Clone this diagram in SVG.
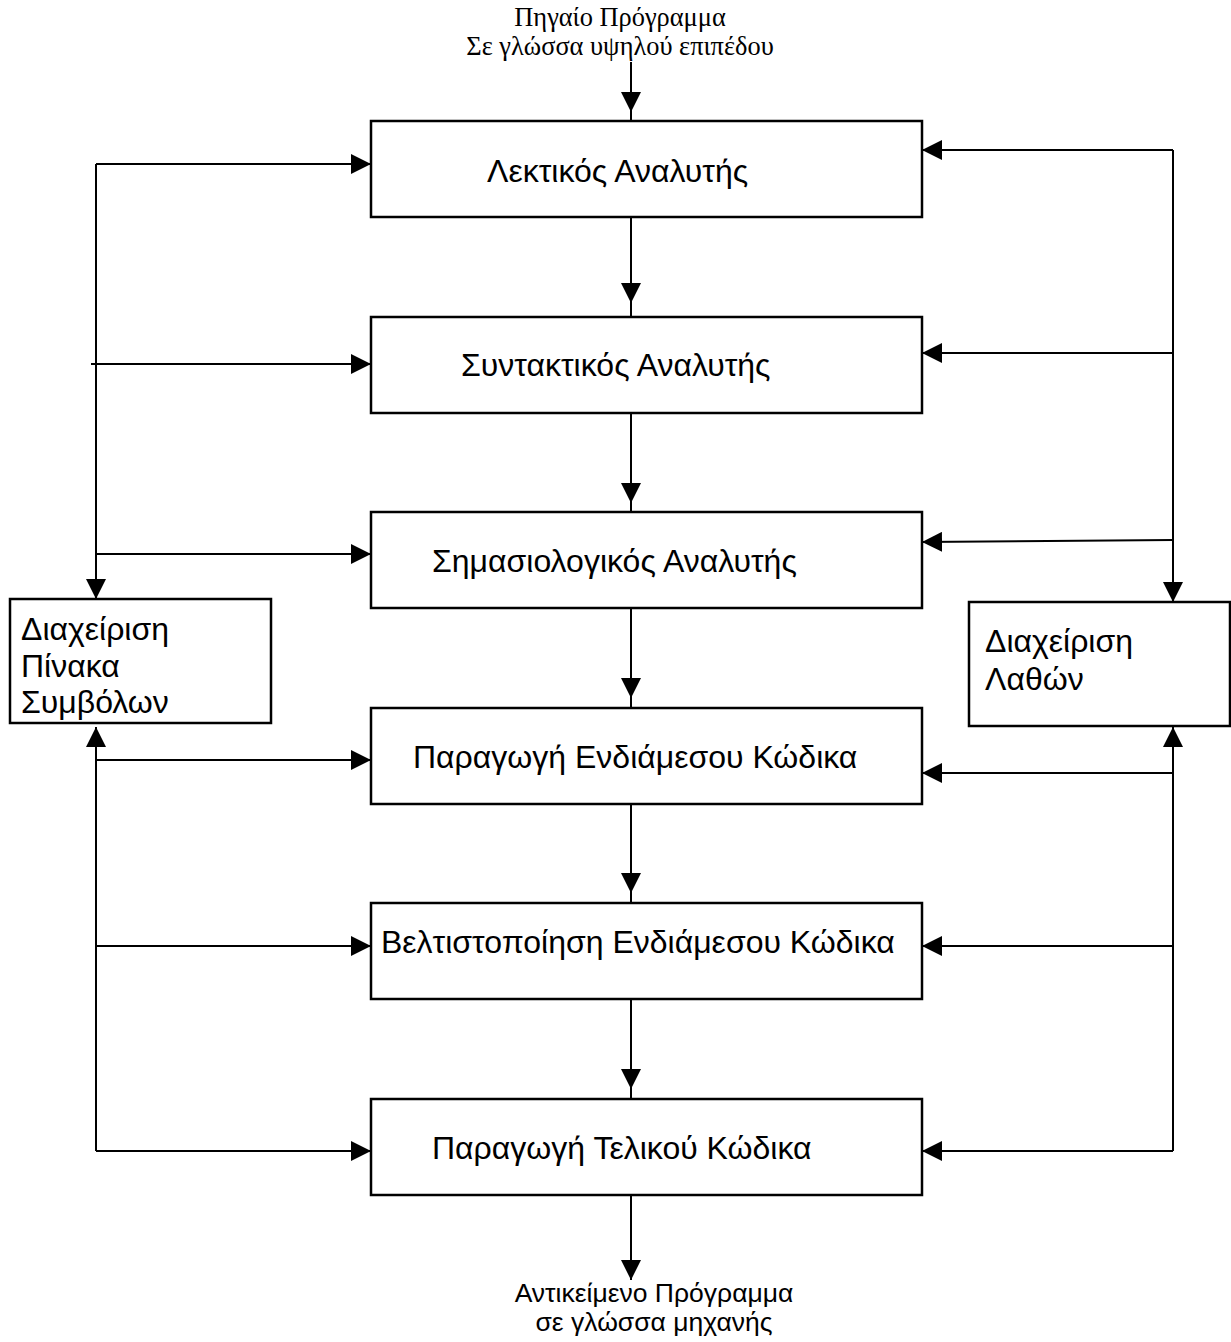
<svg xmlns="http://www.w3.org/2000/svg" width="1231" height="1342" viewBox="0 0 1231 1342">
<style>
.box{fill:#fff;stroke:#000;stroke-width:2.5}
.t{font-family:"Liberation Sans",Arial,sans-serif;font-size:32px;fill:#000}
.s{font-family:"Liberation Serif","Times New Roman",serif;font-size:26.4px;fill:#000}
.b{font-family:"Liberation Sans",Arial,sans-serif;font-size:26.5px;fill:#000}
.c{fill:none;stroke:#000;stroke-width:2;marker-end:url(#a)}
.m{fill:none;stroke:#000;stroke-width:2;marker-mid:url(#a)}
</style>
<defs>
<marker id="a" viewBox="0 0 20 20" refX="20" refY="10" markerWidth="20" markerHeight="20" markerUnits="userSpaceOnUse" orient="auto"><path d="M0,0L20,10L0,20z" fill="#000"/></marker>
</defs>
<g id="connectors">
<path class="m" d="M631,62V112V121"/>
<path class="m" d="M631,217V303V317"/>
<path class="m" d="M631,413V503V512"/>
<path class="m" d="M631,608V698V708"/>
<path class="m" d="M631,804V893V903"/>
<path class="m" d="M631,999V1089V1099"/>
<path class="c" d="M631,1195V1280"/>
<path class="c" d="M96,164H371"/>
<path class="c" d="M96,164V599"/>
<path class="c" d="M91,364H371"/>
<path class="c" d="M96,554H371"/>
<path class="c" d="M96,1151V727"/>
<path class="c" d="M96,760H371"/>
<path class="c" d="M97,946H371"/>
<path class="c" d="M96,1151H371"/>
<path class="c" d="M1173,150V602"/>
<path class="c" d="M1173,150H922"/>
<path class="c" d="M1173,353H922"/>
<path class="c" d="M1173,540L922,542"/>
<path class="c" d="M1173,1151V727"/>
<path class="c" d="M1173,773H922"/>
<path class="c" d="M1173,946H922"/>
<path class="c" d="M1173,1151H922"/>
</g>
<g id="source">
<text class="s" x="620" y="26" text-anchor="middle">Πηγαίο Πρόγραμμα</text>
<text class="s" x="620" y="55" text-anchor="middle">Σε γλώσσα υψηλού επιπέδου</text>
</g>
<g id="lexical">
<rect class="box" x="371" y="121" width="551" height="96"/>
<text class="t" x="487" y="182">Λεκτικός Αναλυτής</text>
</g>
<g id="syntax">
<rect class="box" x="371" y="317" width="551" height="96"/>
<text class="t" x="461" y="376">Συντακτικός Αναλυτής</text>
</g>
<g id="semantic">
<rect class="box" x="371" y="512" width="551" height="96"/>
<text class="t" x="432" y="572">Σημασιολογικός Αναλυτής</text>
</g>
<g id="intermediate">
<rect class="box" x="371" y="708" width="551" height="96"/>
<text class="t" x="413" y="768">Παραγωγή Ενδιάμεσου Κώδικα</text>
</g>
<g id="optimization">
<rect class="box" x="371" y="903" width="551" height="96"/>
<text class="t" x="381" y="953">Βελτιστοποίηση Ενδιάμεσου Κώδικα</text>
</g>
<g id="final">
<rect class="box" x="371" y="1099" width="551" height="96"/>
<text class="t" x="432" y="1159">Παραγωγή Τελικού Κώδικα</text>
</g>
<g id="symbols">
<rect class="box" x="10" y="599" width="261" height="124"/>
<text class="t" x="21" y="640">Διαχείριση</text>
<text class="t" x="21" y="677">Πίνακα</text>
<text class="t" x="21" y="713">Συμβόλων</text>
</g>
<g id="errors">
<rect class="box" x="969" y="602" width="261" height="124"/>
<text class="t" x="985" y="652">Διαχείριση</text>
<text class="t" x="985" y="690">Λαθών</text>
</g>
<g id="target">
<text class="b" x="654" y="1302" text-anchor="middle">Αντικείμενο Πρόγραμμα</text>
<text class="b" x="654" y="1331" text-anchor="middle">σε γλώσσα μηχανής</text>
</g>
</svg>
